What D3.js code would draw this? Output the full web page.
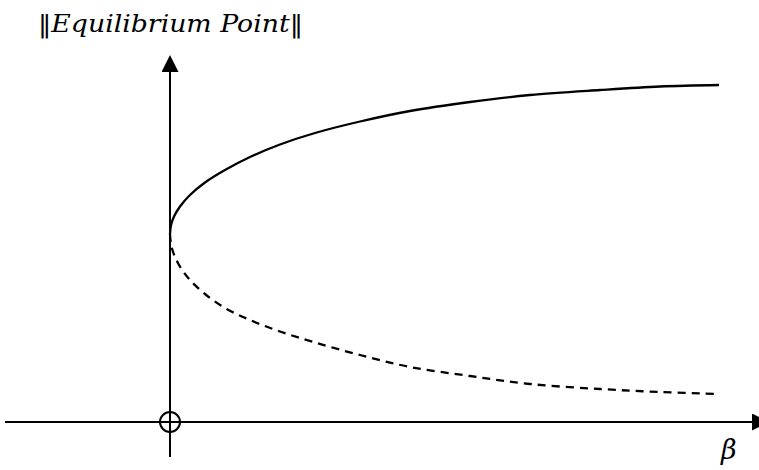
<!DOCTYPE html>
<html>
<head>
<meta charset="utf-8">
<script src="https://cdn.jsdelivr.net/npm/d3@7"></script>
<style>
  html, body { margin: 0; padding: 0; background: #fff; }
  svg { display: block; }
</style>
</head>
<body>
<svg id="chart" width="759" height="470"></svg>
<script>
// Bifurcation diagram: norm of the equilibrium point against the parameter beta.
// Stable branch (solid) and unstable branch (dashed) meet at beta = 0.
const beta      = [0, 0.01, 0.04, 0.1, 0.2, 0.35, 0.55, 0.8, 1.1, 1.45, 1.9, 2.4, 3.0, 3.6, 4.3, 4.9, 5.49];
const normUpper = [1.88, 1.967, 2.054, 2.155, 2.27, 2.395, 2.52, 2.65, 2.775, 2.89, 3.005, 3.11, 3.2, 3.27, 3.32, 3.355, 3.37];
const normLower = [1.88, 1.777, 1.674, 1.554, 1.42, 1.28, 1.14, 1.02, 0.905, 0.795, 0.67, 0.55, 0.46, 0.38, 0.33, 0.30, 0.28];
const axisLabels = ["\u2016", "Equilibrium Point", "\u2016"];
const betaLabel = "\u03b2";

const svg = d3.select("#chart");

const x = d3.scaleLinear().domain([0, 5.5]).range([170, 720]);
const y = d3.scaleLinear().domain([0, 4]).range([422, 22]);

// Arrow marker for both axes
const defs = svg.append("defs");
defs.append("marker")
  .attr("id", "arrow")
  .attr("viewBox", "0 0 10 10")
  .attr("refX", 0).attr("refY", 5)
  .attr("markerWidth", 17).attr("markerHeight", 17)
  .attr("markerUnits", "userSpaceOnUse")
  .attr("orient", "auto")
  .append("path")
  .attr("d", "M0,0 L10,5 L0,10 Z")
  .attr("fill", "#000");

// Horizontal axis (beta)
svg.append("line")
  .attr("x1", x(-1.65)).attr("y1", y(0))
  .attr("x2", x(5.82)).attr("y2", y(0))
  .attr("stroke", "#000").attr("stroke-width", 2)
  .attr("marker-end", "url(#arrow)");

// Vertical axis (norm)
svg.append("line")
  .attr("x1", x(0)).attr("y1", y(-0.35))
  .attr("x2", x(0)).attr("y2", y(3.5))
  .attr("stroke", "#000").attr("stroke-width", 2)
  .attr("marker-end", "url(#arrow)");

// Origin circle
svg.append("circle")
  .attr("cx", x(0)).attr("cy", y(0)).attr("r", 10)
  .attr("fill", "none").attr("stroke", "#000").attr("stroke-width", 2);

const line = d3.line()
  .x(d => x(d[0]))
  .y(d => y(d[1]))
  .curve(d3.curveCatmullRom.alpha(0.5));

svg.append("path")
  .datum(d3.zip(beta, normUpper))
  .attr("d", line)
  .attr("fill", "none")
  .attr("stroke", "#000")
  .attr("stroke-width", 2.3);

svg.append("path")
  .datum(d3.zip(beta, normLower))
  .attr("d", line)
  .attr("fill", "none")
  .attr("stroke", "#000")
  .attr("stroke-width", 2.3)
  .attr("stroke-dasharray", "8,6");

// Axis titles
const title = svg.append("text")
  .attr("x", 38).attr("y", 32)
  .attr("font-family", "'DejaVu Serif', serif")
  .attr("font-size", 25)
  .attr("fill", "#000")
  .attr("textLength", 265)
  .attr("lengthAdjust", "spacingAndGlyphs");
title.append("tspan").text(axisLabels[0]);
title.append("tspan").attr("font-style", "italic").text(axisLabels[1]);
title.append("tspan").text(axisLabels[2]);

svg.append("text")
  .attr("x", 721).attr("y", 459)
  .attr("font-family", "'DejaVu Serif', serif")
  .attr("font-style", "italic")
  .attr("font-size", 27)
  .attr("fill", "#000")
  .text(betaLabel);
</script>
</body>
</html>
